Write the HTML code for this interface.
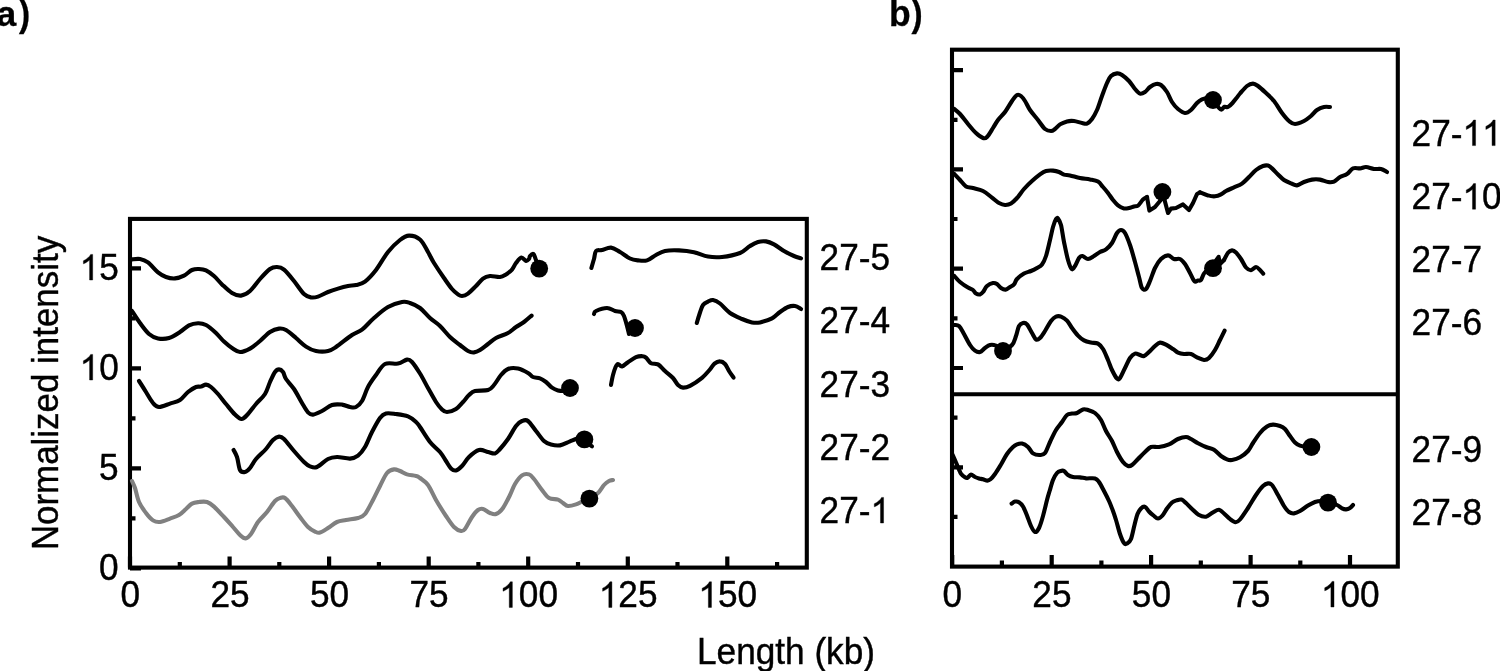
<!DOCTYPE html>
<html><head><meta charset="utf-8"><title>Figure</title>
<style>
html,body{margin:0;padding:0;background:#fff;}
body{width:1500px;height:671px;overflow:hidden;font-family:"Liberation Sans",sans-serif;}
svg{display:block;will-change:transform;}
svg text{font-family:"Liberation Sans",sans-serif;font-size:35.2px;fill:#000;stroke:#000;stroke-width:0.4px;}
svg text.b{font-weight:bold;font-size:35.5px;stroke-width:0.3px;}
</style></head><body>
<svg width="1500" height="671" viewBox="0 0 1500 671">
<rect width="1500" height="671" fill="#fff"/>
<g fill="none" stroke="#000" stroke-width="4.1" stroke-linejoin="miter">
<rect x="130.0" y="218.9" width="676.8" height="348.7"/>
<rect x="952.0" y="49.7" width="445.8" height="516.9"/>
<path d="M952.0 394.2H1397.9"/>
<path d="M130.0 567.6V556.6M179.8 567.6V562.1M229.6 567.6V556.6M279.3 567.6V562.1M329.1 567.6V556.6M378.9 567.6V562.1M428.7 567.6V556.6M478.4 567.6V562.1M528.2 567.6V556.6M578.0 567.6V562.1M627.8 567.6V556.6M677.5 567.6V562.1M727.3 567.6V556.6M777.1 567.6V562.1M130.0 568.4H141.0M130.0 518.4H135.5M130.0 468.4H141.0M130.0 418.4H135.5M130.0 368.4H141.0M130.0 318.4H135.5M130.0 268.4H141.0M952.2 566.6V555.1M1001.9 566.6V560.6M1051.7 566.6V555.1M1101.4 566.6V560.6M1151.1 566.6V555.1M1200.8 566.6V560.6M1250.6 566.6V555.1M1300.3 566.6V560.6M1350.0 566.6V555.1M952.0 70.1H963.0M952.0 119.8H957.5M952.0 169.4H963.0M952.0 219.0H957.5M952.0 268.7H963.0M952.0 318.4H957.5M952.0 368.0H963.0M952.0 417.6H957.5M952.0 467.3H963.0M952.0 516.9H957.5" stroke-width="4.2"/>
</g>
<g fill="none" stroke-width="4.1" stroke-linecap="round" stroke-linejoin="round">
<path d="M132.0 259.4C133.3 259.3 137.3 258.5 140.0 259.0C142.7 259.5 145.0 260.2 148.0 262.4C151.0 264.6 155.0 270.0 158.0 272.4C161.0 274.8 163.2 276.0 166.0 277.0C168.8 278.0 172.0 278.6 175.0 278.4C178.0 278.2 181.2 277.0 184.0 275.6C186.8 274.2 189.5 271.1 192.0 270.0C194.5 268.9 196.7 268.9 199.0 269.0C201.3 269.1 203.5 269.2 206.0 270.4C208.5 271.6 211.3 273.7 214.0 276.0C216.7 278.3 219.0 281.6 222.0 284.4C225.0 287.2 228.8 291.1 232.0 293.0C235.2 294.9 238.0 295.9 241.0 295.6C244.0 295.3 246.8 293.8 250.0 291.0C253.2 288.2 256.7 282.7 260.0 279.0C263.3 275.3 267.2 271.0 270.0 269.0C272.8 267.0 274.7 266.9 277.0 267.0C279.3 267.1 281.2 267.3 284.0 269.6C286.8 271.9 290.7 276.9 294.0 281.0C297.3 285.1 301.2 291.3 304.0 294.0C306.8 296.7 308.7 297.0 311.0 297.4C313.3 297.8 315.2 297.5 318.0 296.6C320.8 295.7 324.7 293.3 328.0 292.0C331.3 290.7 334.7 289.6 338.0 288.6C341.3 287.6 345.0 286.6 348.0 286.0C351.0 285.4 353.2 285.7 356.0 285.0C358.8 284.3 361.7 284.1 365.0 281.6C368.3 279.1 372.2 274.9 376.0 270.0C379.8 265.1 384.0 257.0 388.0 252.0C392.0 247.0 396.5 242.7 400.0 240.0C403.5 237.3 405.7 235.7 409.0 235.6C412.3 235.5 416.8 236.8 420.0 239.5C423.2 242.2 425.7 248.1 428.0 252.0C430.3 255.9 431.3 258.7 434.0 263.0C436.7 267.3 441.0 273.7 444.0 278.0C447.0 282.3 449.7 286.3 452.0 289.0C454.3 291.7 456.3 293.2 458.0 294.4C459.7 295.6 460.3 296.1 462.0 296.0C463.7 295.9 465.7 295.3 468.0 293.6C470.3 291.9 473.5 288.5 476.0 286.0C478.5 283.5 480.7 280.3 483.0 278.6C485.3 276.9 487.2 276.3 490.0 276.0C492.8 275.7 497.3 277.3 500.0 277.0C502.7 276.7 504.0 275.6 506.0 274.4C508.0 273.2 510.3 271.5 512.0 269.6C513.7 267.7 514.4 265.0 516.0 263.0C517.6 261.0 519.7 257.9 521.4 257.6C523.1 257.3 524.7 260.8 526.0 261.0C527.3 261.2 528.3 259.8 529.0 259.0C529.7 258.2 529.3 256.8 530.0 256.0C530.7 255.2 532.4 253.3 533.4 254.0C534.4 254.7 535.2 258.0 536.0 260.0C536.8 262.0 537.7 265.0 538.0 266.0" stroke="#000"/>
<path d="M591.4 268.0C591.8 266.5 593.2 261.8 594.0 259.0C594.8 256.2 594.7 252.5 596.0 251.0C597.3 249.5 599.5 250.6 602.0 250.0C604.5 249.4 608.0 247.3 611.0 247.6C614.0 247.9 616.8 250.2 620.0 252.0C623.2 253.8 627.0 257.1 630.0 258.5C633.0 259.9 635.2 260.1 638.0 260.4C640.8 260.7 644.0 261.3 647.0 260.4C650.0 259.5 653.0 256.6 656.0 255.0C659.0 253.4 661.2 251.8 665.0 251.0C668.8 250.2 674.2 250.2 679.0 250.4C683.8 250.6 689.2 251.2 694.0 252.2C698.8 253.2 703.3 255.8 708.0 256.6C712.7 257.4 716.7 257.6 722.0 257.0C727.3 256.4 735.3 254.8 740.0 253.0C744.7 251.2 747.0 247.8 750.0 246.0C753.0 244.2 755.3 242.8 758.0 242.0C760.7 241.2 763.3 241.0 766.0 241.4C768.7 241.8 771.0 242.8 774.0 244.4C777.0 246.0 780.7 249.1 784.0 251.0C787.3 252.9 791.2 254.8 794.0 256.0C796.8 257.2 799.8 258.0 801.0 258.4" stroke="#000"/>
<path d="M132.0 311.0C133.3 313.0 137.2 319.2 140.0 323.0C142.8 326.8 146.0 331.4 149.0 334.0C152.0 336.6 154.7 337.7 158.0 338.4C161.3 339.1 165.3 339.1 169.0 338.0C172.7 336.9 176.7 334.1 180.0 332.0C183.3 329.9 186.0 326.9 189.0 325.4C192.0 323.9 195.2 323.3 198.0 323.2C200.8 323.1 203.0 323.4 206.0 325.0C209.0 326.6 213.0 330.2 216.0 333.0C219.0 335.8 221.3 339.1 224.0 341.6C226.7 344.1 229.3 346.3 232.0 348.0C234.7 349.7 237.0 351.9 240.0 352.0C243.0 352.1 246.7 350.4 250.0 348.6C253.3 346.8 256.7 343.8 260.0 341.0C263.3 338.2 266.8 334.1 270.0 332.0C273.2 329.9 276.3 328.9 279.0 328.6C281.7 328.3 283.2 328.4 286.0 330.0C288.8 331.6 292.7 335.2 296.0 338.0C299.3 340.8 302.7 344.4 306.0 346.6C309.3 348.8 312.3 350.3 316.0 351.0C319.7 351.7 324.7 351.7 328.0 351.0C331.3 350.3 332.0 349.7 336.0 347.0C340.0 344.3 347.7 337.9 352.0 335.0C356.3 332.1 358.3 332.4 362.0 329.6C365.7 326.8 369.7 321.8 374.0 318.0C378.3 314.2 383.3 309.7 388.0 307.0C392.7 304.3 398.3 302.7 402.0 302.0C405.7 301.3 407.0 302.0 410.0 303.0C413.0 304.0 416.7 305.5 420.0 308.0C423.3 310.5 426.7 315.0 430.0 318.0C433.3 321.0 436.7 322.8 440.0 326.0C443.3 329.2 446.7 333.8 450.0 337.0C453.3 340.2 457.0 342.7 460.0 345.0C463.0 347.3 465.7 349.8 468.0 351.0C470.3 352.2 472.0 352.6 474.0 352.4C476.0 352.2 477.7 351.4 480.0 350.0C482.3 348.6 485.3 346.0 488.0 344.0C490.7 342.0 492.7 339.8 496.0 338.0C499.3 336.2 504.7 334.8 508.0 333.0C511.3 331.2 513.3 328.8 516.0 327.0C518.7 325.2 521.4 323.9 524.0 322.0C526.6 320.1 530.3 316.7 531.6 315.6" stroke="#000"/>
<path d="M594.0 314.0C594.3 313.5 593.8 312.0 596.0 311.0C598.2 310.0 603.8 308.0 607.0 308.0C610.2 308.0 612.7 310.3 615.0 311.0C617.3 311.7 619.5 311.2 621.0 312.0C622.5 312.8 623.0 313.7 624.0 316.0C625.0 318.3 626.2 323.0 627.0 326.0C627.8 329.0 628.7 332.7 629.0 334.0" stroke="#000"/>
<path d="M696.8 323.0C697.3 321.2 699.0 315.5 700.0 312.5C701.0 309.5 701.7 306.8 703.0 305.0C704.3 303.2 706.3 302.4 708.0 301.6C709.7 300.8 711.0 299.7 713.0 300.0C715.0 300.3 717.2 301.3 720.0 303.5C722.8 305.7 726.3 310.4 730.0 313.0C733.7 315.6 738.3 317.4 742.0 319.0C745.7 320.6 749.0 321.8 752.0 322.4C755.0 323.0 756.7 323.1 760.0 322.4C763.3 321.7 768.7 320.1 772.0 318.4C775.3 316.7 777.3 313.9 780.0 312.0C782.7 310.1 785.5 308.0 788.0 307.0C790.5 306.0 792.8 305.7 795.0 306.0C797.2 306.3 800.0 308.5 801.0 309.0" stroke="#000"/>
<path d="M139.0 381.0C140.2 382.8 143.7 388.3 146.0 392.0C148.3 395.7 150.8 400.5 153.0 403.0C155.2 405.5 156.2 406.9 159.0 407.0C161.8 407.1 166.5 404.8 170.0 403.6C173.5 402.4 177.0 401.9 180.0 400.0C183.0 398.1 185.3 394.2 188.0 392.0C190.7 389.8 193.8 387.9 196.0 387.0C198.2 386.1 199.3 387.0 201.0 386.6C202.7 386.2 204.3 384.5 206.0 384.6C207.7 384.7 209.0 385.4 211.0 387.0C213.0 388.6 215.5 391.2 218.0 394.0C220.5 396.8 223.2 400.6 226.0 404.0C228.8 407.4 232.4 412.1 235.0 414.6C237.6 417.1 239.4 419.1 241.6 419.0C243.8 418.9 245.6 416.5 248.0 414.0C250.4 411.5 253.2 407.3 256.0 404.0C258.8 400.7 262.7 397.7 265.0 394.0C267.3 390.3 268.3 385.7 270.0 382.0C271.7 378.3 273.5 374.1 275.0 372.0C276.5 369.9 277.7 369.4 279.0 369.4C280.3 369.4 281.8 370.4 283.0 372.0C284.2 373.6 284.2 376.2 286.0 379.0C287.8 381.8 291.3 385.0 294.0 389.0C296.7 393.0 299.7 399.1 302.0 403.0C304.3 406.9 306.2 410.5 308.0 412.4C309.8 414.3 310.7 414.8 313.0 414.6C315.3 414.4 318.8 412.6 322.0 411.0C325.2 409.4 328.7 406.1 332.0 405.0C335.3 403.9 339.0 404.3 342.0 404.6C345.0 404.9 347.7 406.6 350.0 407.0C352.3 407.4 354.0 408.0 356.0 407.0C358.0 406.0 360.0 404.3 362.0 401.0C364.0 397.7 365.7 391.3 368.0 387.0C370.3 382.7 373.2 378.8 376.0 375.0C378.8 371.2 381.3 365.9 385.0 364.0C388.7 362.1 394.3 364.3 398.0 363.6C401.7 362.9 404.7 359.9 407.0 359.6C409.3 359.3 409.8 359.7 412.0 362.0C414.2 364.3 417.3 369.2 420.0 373.5C422.7 377.8 425.3 383.2 428.0 388.0C430.7 392.8 433.7 398.4 436.0 402.0C438.3 405.6 440.2 407.7 442.0 409.4C443.8 411.1 444.7 412.1 447.0 412.0C449.3 411.9 453.3 410.7 456.0 409.0C458.7 407.3 460.8 404.3 463.0 402.0C465.2 399.7 467.0 396.8 469.0 395.0C471.0 393.2 471.8 391.8 475.0 391.0C478.2 390.2 484.8 391.0 488.0 390.0C491.2 389.0 491.8 387.5 494.0 385.0C496.2 382.5 498.7 377.7 501.0 375.0C503.3 372.3 505.2 370.1 508.0 369.0C510.8 367.9 514.7 367.9 518.0 368.6C521.3 369.3 525.5 371.6 528.0 373.0C530.5 374.4 531.0 376.1 533.0 377.0C535.0 377.9 537.8 377.6 540.0 378.4C542.2 379.2 544.0 380.5 546.0 382.0C548.0 383.5 550.0 386.2 552.0 387.6C554.0 389.0 555.7 389.8 558.0 390.4C560.3 391.0 564.7 390.9 566.0 391.0" stroke="#000"/>
<path d="M611.0 385.0C611.3 383.3 612.2 378.0 613.0 375.0C613.8 372.0 614.8 368.8 615.6 367.0C616.4 365.2 616.9 364.1 618.0 364.0C619.1 363.9 620.3 366.7 622.0 366.4C623.7 366.1 625.7 363.7 628.0 362.2C630.3 360.7 633.6 358.2 636.0 357.2C638.4 356.2 640.8 356.1 642.5 356.2C644.2 356.3 644.6 356.4 646.0 357.6C647.4 358.8 649.0 362.1 651.0 363.2C653.0 364.3 655.7 363.1 658.0 364.4C660.3 365.7 662.5 368.7 665.0 371.0C667.5 373.3 670.8 375.7 673.0 378.0C675.2 380.3 676.3 383.4 678.0 385.0C679.7 386.6 681.0 387.5 683.0 387.6C685.0 387.7 686.8 387.4 690.0 385.8C693.2 384.2 698.8 380.4 702.0 377.8C705.2 375.2 707.4 372.4 709.5 370.0C711.6 367.6 712.8 365.1 714.5 363.7C716.2 362.3 718.2 361.3 720.0 361.4C721.8 361.4 723.5 362.4 725.0 364.0C726.5 365.6 727.6 368.7 729.0 371.0C730.4 373.3 732.8 376.5 733.6 377.6" stroke="#000"/>
<path d="M233.6 450.0C234.2 451.2 235.9 453.7 237.0 457.0C238.1 460.3 238.7 467.5 240.0 470.0C241.3 472.5 243.3 472.3 245.0 472.0C246.7 471.7 248.2 470.2 250.0 468.0C251.8 465.8 253.3 462.2 256.0 459.0C258.7 455.8 263.2 452.2 266.0 449.0C268.8 445.8 270.8 442.1 273.0 440.0C275.2 437.9 277.2 436.8 279.0 436.6C280.8 436.4 281.5 436.6 284.0 439.0C286.5 441.4 290.7 447.2 294.0 451.0C297.3 454.8 301.3 459.4 304.0 462.0C306.7 464.6 307.8 465.6 310.0 466.4C312.2 467.2 314.0 468.2 317.0 467.0C320.0 465.8 324.7 460.7 328.0 459.0C331.3 457.3 333.3 457.1 337.0 457.0C340.7 456.9 346.5 458.8 350.0 458.6C353.5 458.4 355.5 457.5 358.0 455.6C360.5 453.7 362.7 450.9 365.0 447.0C367.3 443.1 369.5 436.8 372.0 432.0C374.5 427.2 377.7 421.1 380.0 418.0C382.3 414.9 383.3 414.1 386.0 413.4C388.7 412.7 392.3 413.5 396.0 414.0C399.7 414.5 404.7 415.1 408.0 416.4C411.3 417.7 414.0 420.2 416.0 422.0C418.0 423.8 417.7 423.7 420.0 427.0C422.3 430.3 426.7 437.8 430.0 442.0C433.3 446.2 437.3 448.8 440.0 452.0C442.7 455.2 444.2 458.3 446.0 461.0C447.8 463.7 449.3 466.8 451.0 468.4C452.7 470.0 454.2 470.8 456.0 470.4C457.8 470.0 459.8 468.2 462.0 466.0C464.2 463.8 466.2 459.7 469.0 457.0C471.8 454.3 475.8 450.8 479.0 450.0C482.2 449.2 485.3 451.4 488.0 452.0C490.7 452.6 493.0 453.9 495.0 453.4C497.0 452.9 497.8 451.4 500.0 449.0C502.2 446.6 505.3 442.8 508.0 439.0C510.7 435.2 513.7 429.0 516.0 426.0C518.3 423.0 520.0 421.8 522.0 421.0C524.0 420.2 525.7 419.3 528.0 421.0C530.3 422.7 533.3 427.7 536.0 431.0C538.7 434.3 541.5 438.7 544.0 441.0C546.5 443.3 548.3 443.9 551.0 444.6C553.7 445.3 556.8 445.9 560.0 445.4C563.2 444.9 566.7 442.7 570.0 441.4C573.3 440.1 578.3 438.1 580.0 437.5" stroke="#000"/>
<path d="M586.0 442.0C587.0 442.7 591.0 445.7 592.0 446.4" stroke="#000"/>
<path d="M132.0 481.0C132.5 482.2 133.8 484.5 135.0 488.0C136.2 491.5 137.2 497.8 139.0 502.0C140.8 506.2 143.7 509.9 146.0 513.0C148.3 516.1 150.7 518.9 153.0 520.4C155.3 521.9 157.2 522.3 160.0 522.0C162.8 521.7 166.8 519.8 170.0 518.6C173.2 517.4 176.3 516.6 179.0 515.0C181.7 513.4 183.8 510.9 186.0 509.0C188.2 507.1 189.8 504.8 192.0 503.6C194.2 502.4 196.5 502.3 199.0 502.0C201.5 501.7 204.5 501.2 207.0 502.0C209.5 502.8 211.2 504.1 214.0 506.6C216.8 509.1 220.8 513.6 224.0 517.0C227.2 520.4 230.3 524.0 233.0 527.0C235.7 530.0 237.9 533.1 240.0 535.0C242.1 536.9 243.8 538.6 245.6 538.4C247.4 538.2 248.9 536.7 251.0 534.0C253.1 531.3 255.3 525.7 258.0 522.0C260.7 518.3 264.2 515.5 267.0 512.0C269.8 508.5 272.8 503.3 275.0 501.0C277.2 498.7 278.3 498.5 280.0 498.0C281.7 497.5 283.0 496.7 285.0 498.0C287.0 499.3 289.5 502.8 292.0 506.0C294.5 509.2 297.3 513.5 300.0 517.0C302.7 520.5 305.5 524.6 308.0 527.0C310.5 529.4 313.0 530.7 315.0 531.6C317.0 532.5 317.8 533.2 320.0 532.6C322.2 532.0 325.2 529.8 328.0 528.0C330.8 526.2 334.0 523.3 337.0 522.0C340.0 520.7 342.5 520.7 346.0 520.0C349.5 519.3 354.8 519.0 358.0 518.0C361.2 517.0 362.5 517.0 365.0 514.0C367.5 511.0 370.5 504.7 373.0 500.0C375.5 495.3 377.7 490.5 380.0 486.0C382.3 481.5 384.7 475.8 387.0 473.0C389.3 470.2 391.8 469.7 394.0 469.4C396.2 469.1 397.8 470.2 400.0 471.0C402.2 471.8 404.3 473.6 407.0 474.4C409.7 475.2 413.8 475.4 416.0 476.0C418.2 476.6 418.0 476.5 420.0 478.0C422.0 479.5 425.3 481.3 428.0 485.0C430.7 488.7 433.0 494.8 436.0 500.0C439.0 505.2 443.0 511.5 446.0 516.0C449.0 520.5 451.5 524.5 454.0 527.0C456.5 529.5 459.2 530.7 461.0 531.0C462.8 531.3 463.2 531.3 465.0 529.0C466.8 526.7 469.8 520.2 472.0 517.0C474.2 513.8 476.2 511.3 478.0 510.0C479.8 508.7 481.0 508.5 483.0 509.0C485.0 509.5 487.8 512.2 490.0 513.0C492.2 513.8 493.8 514.8 496.0 514.0C498.2 513.2 500.7 511.2 503.0 508.0C505.3 504.8 508.0 499.0 510.0 495.0C512.0 491.0 513.0 487.3 515.0 484.0C517.0 480.7 519.7 477.0 522.0 475.4C524.3 473.8 527.0 473.8 529.0 474.4C531.0 475.0 531.8 476.4 534.0 479.0C536.2 481.6 539.5 486.8 542.0 490.0C544.5 493.2 546.3 496.4 549.0 498.0C551.7 499.6 555.7 498.8 558.0 499.6C560.3 500.4 561.3 501.9 563.0 503.0C564.7 504.1 565.8 505.8 568.0 506.0C570.2 506.2 573.5 505.2 576.0 504.4C578.5 503.6 580.7 502.1 583.0 501.0C585.3 499.9 587.5 499.3 590.0 498.0C592.5 496.7 595.7 495.2 598.0 493.0C600.3 490.8 602.2 487.0 604.0 485.0C605.8 483.0 607.5 481.8 609.0 481.0C610.5 480.2 612.3 480.2 613.0 480.0" stroke="#808080"/>
<path d="M954.4 109.0C955.3 109.8 957.7 111.5 960.0 114.0C962.3 116.5 965.3 120.8 968.0 124.0C970.7 127.2 973.5 130.7 976.0 133.0C978.5 135.3 981.2 137.3 983.0 138.0C984.8 138.7 985.3 138.7 987.0 137.0C988.7 135.3 991.2 130.8 993.0 128.0C994.8 125.2 996.0 122.7 998.0 120.0C1000.0 117.3 1002.7 115.2 1005.0 112.0C1007.3 108.8 1010.0 103.8 1012.0 101.0C1014.0 98.2 1015.5 95.8 1017.0 95.0C1018.5 94.2 1019.7 95.0 1021.0 96.0C1022.3 97.0 1023.5 98.7 1025.0 101.0C1026.5 103.3 1027.8 106.8 1030.0 110.0C1032.2 113.2 1035.5 116.8 1038.0 120.0C1040.5 123.2 1042.8 127.2 1045.0 129.0C1047.2 130.8 1049.3 131.0 1051.0 131.0C1052.7 131.0 1053.5 130.1 1055.0 129.0C1056.5 127.9 1058.0 125.7 1060.0 124.4C1062.0 123.1 1064.7 122.0 1067.0 121.4C1069.3 120.8 1071.5 120.7 1074.0 121.0C1076.5 121.3 1079.8 122.6 1082.0 123.0C1084.2 123.4 1085.3 124.3 1087.0 123.6C1088.7 122.9 1090.3 121.3 1092.0 119.0C1093.7 116.7 1095.3 113.8 1097.0 110.0C1098.7 106.2 1100.3 100.5 1102.0 96.0C1103.7 91.5 1105.5 86.3 1107.0 83.0C1108.5 79.7 1109.3 77.6 1111.0 76.0C1112.7 74.4 1115.2 73.6 1117.0 73.4C1118.8 73.2 1120.0 73.7 1122.0 75.0C1124.0 76.3 1126.8 78.7 1129.0 81.0C1131.2 83.3 1133.2 86.9 1135.0 89.0C1136.8 91.1 1138.3 93.1 1140.0 93.6C1141.7 94.1 1143.3 93.1 1145.0 92.0C1146.7 90.9 1148.2 88.3 1150.0 87.0C1151.8 85.7 1154.2 84.3 1156.0 84.0C1157.8 83.7 1159.2 83.7 1161.0 85.0C1162.8 86.3 1165.2 89.2 1167.0 92.0C1168.8 94.8 1170.2 99.2 1172.0 102.0C1173.8 104.8 1175.8 107.2 1178.0 109.0C1180.2 110.8 1182.8 112.8 1185.0 113.0C1187.2 113.2 1189.0 111.7 1191.0 110.0C1193.0 108.3 1195.2 104.8 1197.0 103.0C1198.8 101.2 1200.2 100.2 1202.0 99.4C1203.8 98.6 1206.2 97.9 1208.0 98.0C1209.8 98.1 1211.2 98.3 1213.0 100.0C1214.8 101.7 1217.6 106.4 1219.0 108.0C1220.4 109.6 1220.6 109.8 1221.5 109.6C1222.4 109.4 1223.4 107.2 1224.5 106.8C1225.6 106.4 1226.7 107.6 1228.0 107.0C1229.3 106.4 1231.1 104.5 1232.5 103.0C1233.9 101.5 1235.2 99.6 1236.5 98.0C1237.8 96.4 1238.2 95.5 1240.0 93.5C1241.8 91.5 1244.8 87.7 1247.0 86.0C1249.2 84.3 1251.2 83.6 1253.0 83.6C1254.8 83.6 1255.8 84.4 1258.0 86.0C1260.2 87.6 1263.3 90.5 1266.0 93.0C1268.7 95.5 1271.3 97.7 1274.0 101.0C1276.7 104.3 1279.5 109.7 1282.0 113.0C1284.5 116.3 1286.8 119.2 1289.0 121.0C1291.2 122.8 1292.5 124.0 1295.0 124.0C1297.5 124.0 1301.3 122.3 1304.0 121.0C1306.7 119.7 1308.8 117.8 1311.0 116.0C1313.2 114.2 1314.8 111.5 1317.0 110.0C1319.2 108.5 1321.8 107.5 1324.0 107.0C1326.2 106.5 1329.0 107.0 1330.0 107.0" stroke="#000"/>
<path d="M954.4 174.0C955.3 175.0 958.1 177.9 960.0 180.0C961.9 182.1 963.8 185.1 966.0 186.4C968.2 187.7 970.2 187.2 973.0 188.0C975.8 188.8 979.8 189.4 983.0 191.0C986.2 192.6 989.3 195.6 992.0 197.6C994.7 199.6 996.8 201.8 999.0 203.0C1001.2 204.2 1003.0 204.9 1005.0 205.0C1007.0 205.1 1009.0 204.8 1011.0 203.6C1013.0 202.4 1014.8 200.4 1017.0 198.0C1019.2 195.6 1021.5 191.8 1024.0 189.0C1026.5 186.2 1029.3 183.4 1032.0 181.0C1034.7 178.6 1037.7 176.1 1040.0 174.4C1042.3 172.7 1043.8 171.6 1046.0 171.0C1048.2 170.4 1050.8 170.4 1053.0 170.6C1055.2 170.8 1057.2 171.3 1059.0 172.0C1060.8 172.7 1062.2 174.0 1064.0 174.6C1065.8 175.2 1067.3 174.8 1070.0 175.4C1072.7 176.0 1076.7 177.3 1080.0 178.0C1083.3 178.7 1087.0 178.8 1090.0 179.4C1093.0 180.0 1095.8 180.3 1098.0 181.6C1100.2 182.9 1101.3 185.1 1103.0 187.0C1104.7 188.9 1106.3 190.8 1108.0 193.0C1109.7 195.2 1111.3 197.9 1113.0 200.0C1114.7 202.1 1116.2 204.0 1118.0 205.4C1119.8 206.8 1122.2 208.0 1124.0 208.4C1125.8 208.8 1127.3 208.3 1129.0 208.0C1130.7 207.7 1132.5 206.8 1134.0 206.4C1135.5 206.0 1136.5 206.7 1138.0 205.6C1139.5 204.5 1141.5 201.0 1143.0 199.6C1144.5 198.2 1146.3 197.4 1147.0 197.0" stroke="#000"/>
<path d="M954.4 276.0C955.3 277.0 957.7 280.1 960.0 282.0C962.3 283.9 965.8 286.3 968.0 287.6C970.2 288.9 971.7 289.0 973.0 290.0C974.3 291.0 974.8 292.9 976.0 293.6C977.2 294.3 978.8 294.7 980.0 294.4C981.2 294.1 981.8 293.4 983.0 292.0C984.2 290.6 985.3 287.5 987.0 286.0C988.7 284.5 991.3 283.3 993.0 283.0C994.7 282.7 995.7 283.2 997.0 284.0C998.3 284.8 999.6 287.1 1001.0 288.0C1002.4 288.9 1004.1 289.8 1005.6 289.6C1007.1 289.4 1008.6 287.9 1010.0 287.0C1011.4 286.1 1012.8 285.7 1014.0 284.4C1015.2 283.1 1015.3 280.8 1017.0 279.0C1018.7 277.2 1021.7 274.8 1024.0 273.5C1026.3 272.2 1028.8 271.9 1031.0 271.0C1033.2 270.1 1035.2 269.1 1037.0 268.0C1038.8 266.9 1040.5 266.4 1042.0 264.4C1043.5 262.4 1044.7 260.1 1046.0 256.0C1047.3 251.9 1048.8 244.8 1050.0 240.0C1051.2 235.2 1052.0 230.5 1053.0 227.0C1054.0 223.5 1055.2 220.4 1056.0 219.0C1056.8 217.6 1057.2 217.6 1058.0 218.6C1058.8 219.6 1060.0 221.1 1061.0 225.0C1062.0 228.9 1062.8 236.2 1064.0 242.0C1065.2 247.8 1066.7 255.5 1068.0 260.0C1069.3 264.5 1070.4 268.0 1071.6 269.0C1072.8 270.0 1073.8 267.8 1075.0 266.0C1076.2 264.2 1077.8 259.7 1079.0 258.0C1080.2 256.3 1080.9 255.8 1082.4 256.0C1083.9 256.2 1086.1 259.0 1088.0 259.0C1089.9 259.0 1092.0 257.2 1094.0 256.0C1096.0 254.8 1098.0 253.1 1100.0 252.0C1102.0 250.9 1104.0 250.9 1106.0 249.4C1108.0 247.9 1110.2 245.7 1112.0 243.0C1113.8 240.3 1115.5 235.2 1117.0 233.0C1118.5 230.8 1119.7 230.0 1121.0 230.0C1122.3 230.0 1123.5 230.5 1125.0 233.0C1126.5 235.5 1128.3 240.2 1130.0 245.0C1131.7 249.8 1133.5 256.7 1135.0 262.0C1136.5 267.3 1137.8 272.7 1139.0 277.0C1140.2 281.3 1140.8 286.0 1142.0 288.0C1143.2 290.0 1144.7 290.2 1146.0 289.0C1147.3 287.8 1148.5 284.5 1150.0 281.0C1151.5 277.5 1153.2 271.7 1155.0 268.0C1156.8 264.3 1158.8 261.1 1161.0 259.0C1163.2 256.9 1165.8 255.4 1168.0 255.4C1170.2 255.4 1172.0 258.4 1174.0 259.0C1176.0 259.6 1178.2 258.2 1180.0 259.0C1181.8 259.8 1183.3 261.7 1185.0 264.0C1186.7 266.3 1188.4 270.1 1190.0 273.0C1191.6 275.9 1193.2 280.1 1194.5 281.3C1195.8 282.6 1196.9 280.7 1198.0 280.5C1199.1 280.3 1200.0 281.2 1201.0 280.0C1202.0 278.8 1202.7 275.5 1204.0 273.5C1205.3 271.5 1208.2 268.9 1209.0 268.0" stroke="#000"/>
<path d="M954.4 325.0C955.2 325.2 957.4 324.5 959.0 326.0C960.6 327.5 962.2 330.8 964.0 334.0C965.8 337.2 968.2 342.2 970.0 345.0C971.8 347.8 973.3 349.4 975.0 350.6C976.7 351.8 978.3 352.4 980.0 352.0C981.7 351.6 983.3 349.2 985.0 348.0C986.7 346.8 988.2 345.4 990.0 345.0C991.8 344.6 993.8 344.8 996.0 345.6C998.2 346.4 1000.3 350.1 1003.0 350.0C1005.7 349.9 1009.8 347.3 1012.0 345.0C1014.2 342.7 1014.8 339.2 1016.0 336.0C1017.2 332.8 1017.8 328.2 1019.0 326.0C1020.2 323.8 1021.7 323.3 1023.0 323.0C1024.3 322.7 1025.5 322.7 1027.0 324.4C1028.5 326.1 1030.5 330.5 1032.0 333.0C1033.5 335.5 1034.7 338.6 1036.0 339.4C1037.3 340.2 1038.5 339.4 1040.0 338.0C1041.5 336.6 1043.2 333.8 1045.0 331.0C1046.8 328.2 1049.2 323.4 1051.0 321.0C1052.8 318.6 1054.3 317.3 1056.0 316.6C1057.7 315.9 1059.2 315.9 1061.0 316.6C1062.8 317.3 1065.2 318.7 1067.0 320.6C1068.8 322.5 1070.2 325.5 1072.0 328.0C1073.8 330.5 1076.0 333.5 1078.0 335.6C1080.0 337.7 1081.8 339.2 1084.0 340.4C1086.2 341.6 1088.7 342.1 1091.0 342.6C1093.3 343.1 1096.0 342.5 1098.0 343.6C1100.0 344.7 1101.3 346.3 1103.0 349.0C1104.7 351.7 1106.5 356.5 1108.0 360.0C1109.5 363.5 1110.5 366.9 1112.0 370.0C1113.5 373.1 1115.7 377.3 1117.0 378.6C1118.3 379.9 1118.7 379.8 1120.0 378.0C1121.3 376.2 1123.3 371.3 1125.0 368.0C1126.7 364.7 1128.3 360.4 1130.0 358.0C1131.7 355.6 1133.3 354.1 1135.0 353.6C1136.7 353.1 1138.5 354.6 1140.0 355.0C1141.5 355.4 1142.5 356.5 1144.0 356.0C1145.5 355.5 1147.2 353.7 1149.0 352.0C1150.8 350.3 1153.2 347.6 1155.0 346.0C1156.8 344.4 1158.2 342.8 1160.0 342.6C1161.8 342.4 1163.8 343.5 1166.0 344.6C1168.2 345.7 1171.0 347.7 1173.0 349.0C1175.0 350.3 1176.2 351.8 1178.0 352.6C1179.8 353.4 1181.8 353.8 1184.0 354.0C1186.2 354.2 1188.8 353.4 1191.0 354.0C1193.2 354.6 1194.8 356.4 1197.0 357.4C1199.2 358.4 1202.0 359.9 1204.0 360.0C1206.0 360.1 1207.2 359.7 1209.0 358.0C1210.8 356.3 1213.2 353.0 1215.0 350.0C1216.8 347.0 1218.4 343.2 1220.0 340.0C1221.6 336.8 1223.8 332.2 1224.6 330.6" stroke="#000"/>
<path d="M952.5 454.5C953.1 455.8 954.9 460.0 956.0 462.5C957.1 465.0 958.1 467.6 959.0 469.5C959.9 471.4 960.2 472.7 961.2 474.0C962.2 475.3 964.0 476.7 965.0 477.3C966.0 477.9 966.5 478.2 967.5 477.8C968.5 477.4 969.8 474.7 971.0 474.6C972.2 474.5 973.7 476.4 975.0 477.0C976.3 477.6 977.7 478.1 979.0 478.5C980.3 478.9 981.6 478.8 983.0 479.2C984.4 479.6 986.2 480.6 987.5 480.6C988.8 480.6 989.2 480.4 990.5 479.3C991.8 478.2 993.2 476.5 995.0 474.0C996.8 471.5 999.0 467.8 1001.0 464.5C1003.0 461.2 1005.0 456.9 1007.0 454.0C1009.0 451.1 1011.3 448.6 1013.0 447.0C1014.7 445.4 1015.5 445.0 1017.0 444.4C1018.5 443.8 1020.2 443.2 1022.0 443.6C1023.8 444.0 1026.2 445.4 1028.0 447.0C1029.8 448.6 1031.0 452.1 1033.0 453.4C1035.0 454.7 1038.0 455.1 1040.0 455.0C1042.0 454.9 1043.3 455.2 1045.0 453.0C1046.7 450.8 1048.2 445.8 1050.0 442.0C1051.8 438.2 1054.0 433.3 1056.0 430.0C1058.0 426.7 1060.2 424.5 1062.0 422.0C1063.8 419.5 1065.3 416.4 1067.0 415.0C1068.7 413.6 1070.3 413.9 1072.0 413.6C1073.7 413.3 1075.2 413.7 1077.0 413.0C1078.8 412.3 1081.2 409.9 1083.0 409.4C1084.8 408.9 1086.0 409.4 1088.0 410.0C1090.0 410.6 1092.8 411.3 1095.0 413.0C1097.2 414.7 1099.2 417.0 1101.0 420.0C1102.8 423.0 1104.2 427.5 1106.0 431.0C1107.8 434.5 1110.2 437.5 1112.0 441.0C1113.8 444.5 1115.2 448.5 1117.0 452.0C1118.8 455.5 1121.2 459.7 1123.0 462.0C1124.8 464.3 1126.5 465.5 1128.0 466.0C1129.5 466.5 1130.3 466.2 1132.0 465.0C1133.7 463.8 1135.8 461.2 1138.0 459.0C1140.2 456.8 1142.8 454.0 1145.0 452.0C1147.2 450.0 1148.7 447.8 1151.0 447.0C1153.3 446.2 1156.0 447.4 1159.0 447.0C1162.0 446.6 1165.8 445.7 1169.0 444.4C1172.2 443.1 1175.2 440.2 1178.0 439.0C1180.8 437.8 1183.8 437.0 1186.0 437.0C1188.2 437.0 1189.0 438.0 1191.0 439.0C1193.0 440.0 1195.5 441.9 1198.0 443.2C1200.5 444.5 1203.3 445.9 1206.0 447.0C1208.7 448.1 1211.5 448.3 1214.0 449.8C1216.5 451.3 1218.8 454.4 1221.0 456.0C1223.2 457.6 1225.2 458.7 1227.0 459.4C1228.8 460.1 1229.8 460.4 1232.0 460.0C1234.2 459.6 1237.3 458.8 1240.0 457.3C1242.7 455.8 1245.8 453.4 1248.0 451.0C1250.2 448.6 1251.0 446.0 1253.0 443.0C1255.0 440.0 1257.7 435.7 1260.0 433.0C1262.3 430.3 1264.8 428.0 1267.0 426.6C1269.2 425.2 1270.8 424.7 1273.0 424.6C1275.2 424.5 1278.0 425.3 1280.0 426.0C1282.0 426.7 1283.3 427.3 1285.0 429.0C1286.7 430.7 1288.3 433.7 1290.0 436.0C1291.7 438.3 1293.3 441.0 1295.0 442.6C1296.7 444.2 1298.2 444.9 1300.0 445.6C1301.8 446.3 1305.0 446.6 1306.0 446.8" stroke="#000"/>
<path d="M1011.6 503.6C1012.2 503.3 1013.8 501.8 1015.0 501.6C1016.2 501.4 1017.7 501.4 1019.0 502.2C1020.3 503.0 1021.7 504.3 1023.0 506.5C1024.3 508.7 1025.7 512.2 1027.0 515.5C1028.3 518.8 1029.7 523.2 1031.0 526.0C1032.3 528.8 1033.7 531.7 1035.0 532.0C1036.3 532.3 1037.7 530.7 1039.0 528.0C1040.3 525.3 1041.7 520.7 1043.0 516.0C1044.3 511.3 1045.9 504.2 1047.0 500.0C1048.1 495.8 1048.6 494.3 1049.6 491.0C1050.6 487.7 1051.8 483.0 1053.0 480.0C1054.2 477.0 1055.7 474.5 1057.0 473.0C1058.3 471.5 1059.8 471.3 1061.0 471.0C1062.2 470.7 1062.8 470.3 1064.0 471.0C1065.2 471.7 1066.5 474.0 1068.0 475.0C1069.5 476.0 1071.0 476.6 1073.0 477.0C1075.0 477.4 1077.8 477.2 1080.0 477.4C1082.2 477.6 1083.5 478.2 1086.0 478.4C1088.5 478.6 1092.8 477.8 1095.0 478.4C1097.2 479.0 1097.5 479.9 1099.0 482.0C1100.5 484.1 1102.3 487.8 1104.0 491.0C1105.7 494.2 1107.5 497.7 1109.0 501.0C1110.5 504.3 1111.8 507.8 1113.0 511.0C1114.2 514.2 1114.8 516.2 1116.0 520.0C1117.2 523.8 1118.7 530.2 1120.0 534.0C1121.3 537.8 1122.8 541.4 1124.0 543.0C1125.2 544.6 1125.8 544.3 1127.0 543.6C1128.2 542.9 1129.8 542.1 1131.0 539.0C1132.2 535.9 1133.4 529.2 1134.5 525.0C1135.6 520.8 1136.4 516.8 1137.5 514.0C1138.6 511.2 1139.8 509.7 1141.0 508.5C1142.2 507.3 1143.7 506.3 1145.0 506.8C1146.3 507.3 1147.6 510.1 1149.0 511.5C1150.4 513.0 1152.0 514.3 1153.5 515.5C1155.0 516.7 1156.5 518.5 1158.0 518.5C1159.5 518.5 1161.0 517.2 1162.5 515.5C1164.0 513.8 1165.4 510.7 1167.0 508.5C1168.6 506.3 1170.4 503.9 1172.0 502.5C1173.6 501.1 1174.9 500.9 1176.5 500.4C1178.1 499.9 1179.9 499.2 1181.5 499.6C1183.1 500.0 1184.2 501.4 1186.0 503.0C1187.8 504.6 1189.9 507.1 1192.0 509.0C1194.1 510.9 1196.2 513.4 1198.5 514.7C1200.8 516.0 1203.6 517.1 1206.0 516.7C1208.4 516.3 1210.8 513.5 1213.0 512.4C1215.2 511.2 1217.2 509.6 1219.0 509.8C1220.8 510.0 1222.2 512.0 1224.0 513.5C1225.8 515.0 1228.1 517.5 1230.0 519.0C1231.9 520.5 1233.9 522.1 1235.6 522.2C1237.3 522.3 1237.9 521.9 1240.0 519.5C1242.1 517.1 1245.3 512.1 1248.0 508.0C1250.7 503.9 1253.5 498.7 1256.0 495.0C1258.5 491.3 1261.0 487.9 1263.0 486.0C1265.0 484.1 1266.5 483.6 1268.0 483.4C1269.5 483.2 1270.3 483.1 1272.0 485.0C1273.7 486.9 1276.0 491.5 1278.0 495.0C1280.0 498.5 1282.2 503.2 1284.0 506.0C1285.8 508.8 1287.3 510.8 1289.0 512.0C1290.7 513.2 1292.2 513.6 1294.0 513.4C1295.8 513.2 1297.7 512.3 1300.0 511.0C1302.3 509.7 1305.5 507.1 1308.0 505.6C1310.5 504.1 1312.7 502.8 1315.0 502.0C1317.3 501.2 1319.5 500.8 1322.0 501.0C1324.5 501.2 1327.5 502.3 1330.0 503.0C1332.5 503.7 1335.0 504.1 1337.0 505.0C1339.0 505.9 1340.5 507.7 1342.0 508.4C1343.5 509.1 1344.7 509.5 1346.0 509.4C1347.3 509.3 1348.8 508.7 1350.0 508.0C1351.2 507.3 1352.5 505.5 1353.0 505.0" stroke="#000"/>
<path d="M1200.0 192.4C1201.3 192.9 1205.5 194.8 1208.0 195.4C1210.5 196.1 1212.8 196.5 1215.0 196.3C1217.2 196.1 1219.2 195.3 1221.0 194.4C1222.8 193.5 1223.8 192.2 1226.0 191.0C1228.2 189.8 1231.3 188.6 1234.0 187.4C1236.7 186.2 1239.5 185.3 1242.0 183.6C1244.5 181.9 1246.7 179.3 1249.0 177.0C1251.3 174.7 1253.7 171.8 1256.0 170.0C1258.3 168.2 1261.0 166.7 1263.0 166.0C1265.0 165.3 1266.5 165.2 1268.0 165.6C1269.5 166.0 1270.3 166.9 1272.0 168.4C1273.7 169.9 1276.0 172.5 1278.0 174.4C1280.0 176.3 1281.8 178.5 1284.0 180.0C1286.2 181.5 1288.8 182.5 1291.0 183.4C1293.2 184.3 1294.8 185.6 1297.0 185.4C1299.2 185.2 1301.5 183.0 1304.0 182.0C1306.5 181.0 1309.3 180.0 1312.0 179.6C1314.7 179.2 1317.3 179.2 1320.0 179.6C1322.7 180.0 1325.7 181.7 1328.0 182.0C1330.3 182.3 1332.0 182.4 1334.0 181.6C1336.0 180.8 1337.8 178.3 1340.0 177.0C1342.2 175.7 1344.8 175.4 1347.0 174.0C1349.2 172.6 1350.8 169.3 1353.0 168.4C1355.2 167.5 1357.8 168.6 1360.0 168.4C1362.2 168.2 1363.7 166.9 1366.0 167.0C1368.3 167.1 1371.5 168.7 1374.0 169.0C1376.5 169.3 1378.8 168.5 1381.0 169.0C1383.2 169.5 1386.0 171.5 1387.0 172.0" stroke="#000"/>
<path d="M1224.0 260.0C1224.7 258.8 1226.7 254.4 1228.0 252.8C1229.3 251.2 1230.7 250.5 1232.0 250.4C1233.3 250.3 1234.5 251.1 1236.0 252.5C1237.5 253.9 1239.3 256.5 1241.0 259.0C1242.7 261.5 1244.3 265.6 1246.0 267.5C1247.7 269.4 1249.3 270.3 1251.0 270.2C1252.7 270.1 1254.5 267.0 1256.0 267.0C1257.5 267.0 1258.8 268.9 1260.0 270.0C1261.2 271.1 1262.7 273.0 1263.2 273.6" stroke="#000"/>
<path d="M1147.0 197.0L1149.4 210.6L1155.0 207.0L1160.0 201.0L1163.5 196.0L1168.0 213.0L1171.0 208.6L1176.0 208.0L1183.0 204.4L1189.0 210.0L1193.0 203.0L1197.0 194.0L1200.0 192.4" stroke="#000"/>
<path d="M1215.0 262.0L1218.6 256.8L1220.0 264.0L1224.0 260.0" stroke="#000"/>
</g>
<g fill="#000"><circle cx="539.2" cy="268.6" r="8.9"/><circle cx="635.0" cy="328.0" r="8.9"/><circle cx="570.0" cy="388.0" r="8.9"/><circle cx="584.4" cy="439.4" r="8.9"/><circle cx="589.4" cy="498.6" r="8.9"/><circle cx="1213.0" cy="100.0" r="8.9"/><circle cx="1162.4" cy="192.0" r="8.9"/><circle cx="1213.0" cy="268.2" r="8.9"/><circle cx="1003.0" cy="351.0" r="8.9"/><circle cx="1311.4" cy="447.0" r="8.9"/><circle cx="1328.0" cy="502.6" r="8.9"/></g>
<g>
<text transform="translate(130.4,607.4) scale(1.000,1.050)" text-anchor="middle" >0</text>
<text transform="translate(230.0,607.4) scale(1.000,1.050)" text-anchor="middle" >25</text>
<text transform="translate(329.5,607.4) scale(1.000,1.050)" text-anchor="middle" >50</text>
<text transform="translate(429.1,607.4) scale(1.000,1.050)" text-anchor="middle" >75</text>
<path transform="translate(499.24,607.4) scale(0.01719,-0.01739)" d="M763 0H583V1147Q518 1085 412.5 1023T223 930V1104Q374 1175 487 1276T647 1472H763Z" stroke="#000" stroke-width="23"/>
<text transform="translate(518.81,607.4) scale(1.000,1.050)">00</text>
<path transform="translate(598.79,607.4) scale(0.01719,-0.01739)" d="M763 0H583V1147Q518 1085 412.5 1023T223 930V1104Q374 1175 487 1276T647 1472H763Z" stroke="#000" stroke-width="23"/>
<text transform="translate(618.36,607.4) scale(1.000,1.050)">25</text>
<path transform="translate(698.34,607.4) scale(0.01719,-0.01739)" d="M763 0H583V1147Q518 1085 412.5 1023T223 930V1104Q374 1175 487 1276T647 1472H763Z" stroke="#000" stroke-width="23"/>
<text transform="translate(717.91,607.4) scale(1.000,1.050)">50</text>
<text transform="translate(952.4,607.0) scale(1.000,1.050)" text-anchor="middle" >0</text>
<text transform="translate(1051.9,607.0) scale(1.000,1.050)" text-anchor="middle" >25</text>
<text transform="translate(1151.4,607.0) scale(1.000,1.050)" text-anchor="middle" >50</text>
<text transform="translate(1250.8,607.0) scale(1.000,1.050)" text-anchor="middle" >75</text>
<path transform="translate(1320.89,607.0) scale(0.01719,-0.01739)" d="M763 0H583V1147Q518 1085 412.5 1023T223 930V1104Q374 1175 487 1276T647 1472H763Z" stroke="#000" stroke-width="23"/>
<text transform="translate(1340.46,607.0) scale(1.000,1.050)">00</text>
<text transform="translate(118.7,580.0) scale(1.000,1.050)" text-anchor="end" >0</text>
<text transform="translate(118.7,480.0) scale(1.000,1.050)" text-anchor="end" >5</text>
<path transform="translate(79.56,380.0) scale(0.01719,-0.01739)" d="M763 0H583V1147Q518 1085 412.5 1023T223 930V1104Q374 1175 487 1276T647 1472H763Z" stroke="#000" stroke-width="23"/>
<text transform="translate(99.13,380.0) scale(1.000,1.050)">0</text>
<path transform="translate(79.56,280.0) scale(0.01719,-0.01739)" d="M763 0H583V1147Q518 1085 412.5 1023T223 930V1104Q374 1175 487 1276T647 1472H763Z" stroke="#000" stroke-width="23"/>
<text transform="translate(99.13,280.0) scale(1.000,1.050)">5</text>
<text transform="translate(819.6,270.2) scale(1.000,1.050)" text-anchor="start" >27-5</text>
<text transform="translate(819.6,333.4) scale(1.000,1.050)" text-anchor="start" >27-4</text>
<text transform="translate(819.6,396.6) scale(1.000,1.050)" text-anchor="start" >27-3</text>
<text transform="translate(819.6,459.8) scale(1.000,1.050)" text-anchor="start" >27-2</text>
<text transform="translate(819.60,523.0) scale(1.000,1.050)">27-</text>
<path transform="translate(870.46,523.0) scale(0.01719,-0.01739)" d="M763 0H583V1147Q518 1085 412.5 1023T223 930V1104Q374 1175 487 1276T647 1472H763Z" stroke="#000" stroke-width="23"/>
<text transform="translate(1411.60,145.6) scale(1.000,1.050)">27-</text>
<path transform="translate(1462.46,145.6) scale(0.01719,-0.01739)" d="M763 0H583V1147Q518 1085 412.5 1023T223 930V1104Q374 1175 487 1276T647 1472H763Z" stroke="#000" stroke-width="23"/>
<path transform="translate(1482.04,145.6) scale(0.01719,-0.01739)" d="M763 0H583V1147Q518 1085 412.5 1023T223 930V1104Q374 1175 487 1276T647 1472H763Z" stroke="#000" stroke-width="23"/>
<text transform="translate(1411.60,209.2) scale(1.000,1.050)">27-</text>
<path transform="translate(1462.46,209.2) scale(0.01719,-0.01739)" d="M763 0H583V1147Q518 1085 412.5 1023T223 930V1104Q374 1175 487 1276T647 1472H763Z" stroke="#000" stroke-width="23"/>
<text transform="translate(1482.04,209.2) scale(1.000,1.050)">0</text>
<text transform="translate(1411.6,272.2) scale(1.000,1.050)" text-anchor="start" >27-7</text>
<text transform="translate(1411.6,335.4) scale(1.000,1.050)" text-anchor="start" >27-6</text>
<text transform="translate(1411.6,461.6) scale(1.000,1.050)" text-anchor="start" >27-9</text>
<text transform="translate(1411.6,525.2) scale(1.000,1.050)" text-anchor="start" >27-8</text>
<text transform="translate(786.0,663.7) scale(1.000,1.050)" text-anchor="middle" >Length (kb)</text>
<text transform="translate(58.1,393.0) rotate(-90) scale(0.992,1.050)" text-anchor="middle">Normalized intensity</text>
<text transform="translate(-3.4,26.4) scale(1,0.975)" class="b">a</text>
<text transform="translate(18.9,26.4) scale(0.94,1.04)" class="b">)</text>
<text transform="translate(889.05,26.4) scale(1,1.04)" class="b">b</text>
<text transform="translate(911.6,26.4) scale(0.94,1.04)" class="b">)</text>
</g>
</svg>
</body></html>
